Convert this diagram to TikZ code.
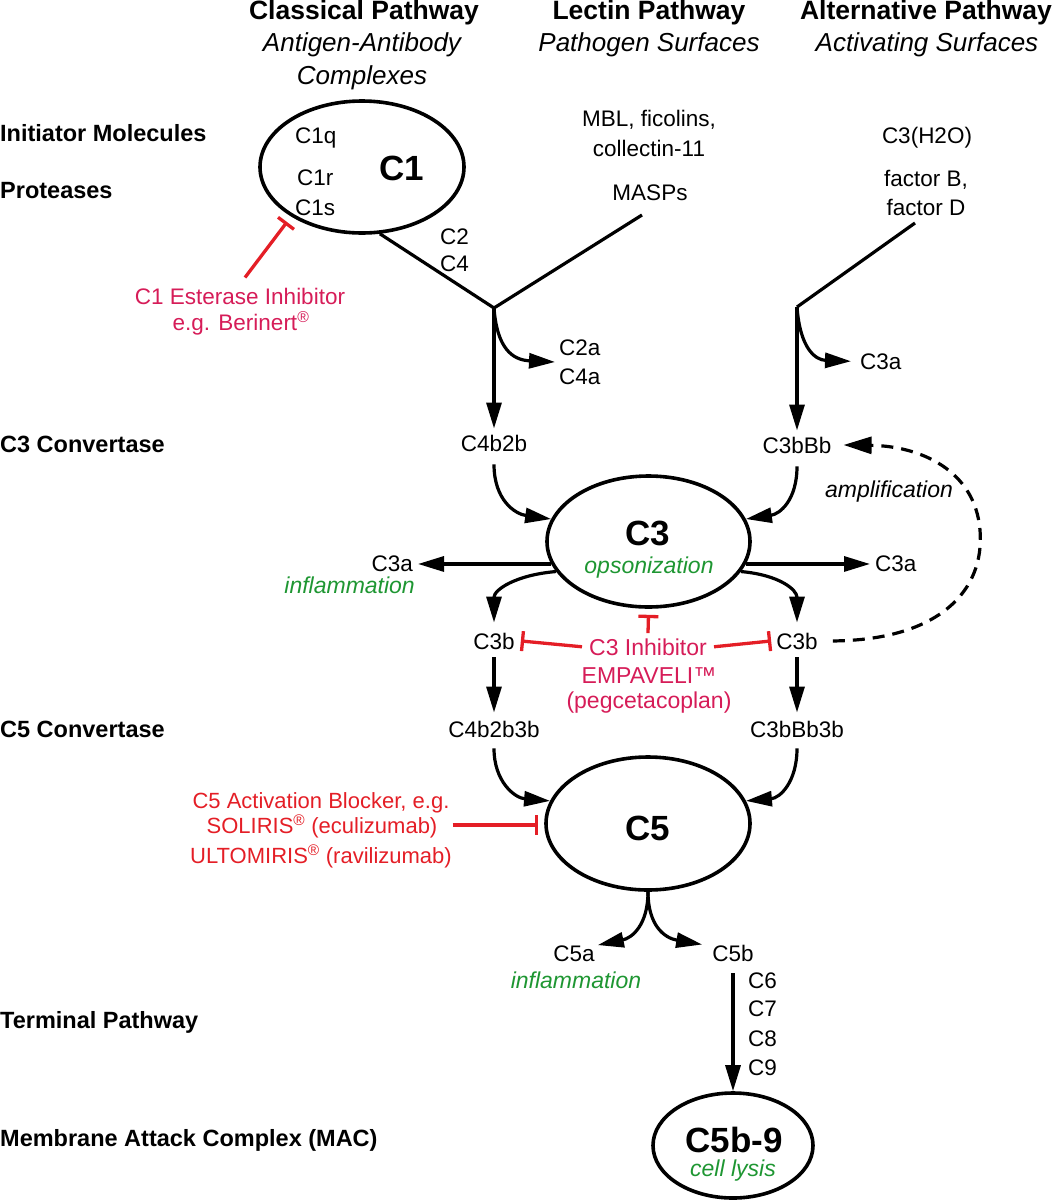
\documentclass[tikz,border=0pt]{standalone}
\usepackage{fontspec}
\setmainfont{Liberation Sans}
\usetikzlibrary{arrows.meta,shapes.geometric,calc}
\definecolor{inhred}{RGB}{228,30,38}
\definecolor{inhpink}{RGB}{214,28,88}
\definecolor{grn}{RGB}{30,150,50}
\begin{document}
\begin{tikzpicture}[x=1pt,y=-1pt,
  every node/.style={inner sep=0pt},
  hdr/.style={anchor=base, font=\fontsize{26.5}{30}\selectfont\bfseries},
  sub/.style={anchor=base, font=\fontsize{26}{30}\selectfont\itshape},
  side/.style={anchor=base west, font=\fontsize{23.5}{28}\selectfont\bfseries},
  lbl/.style={anchor=base, font=\fontsize{22.5}{27}\selectfont},
  lblw/.style={lbl, anchor=base west},
  lble/.style={lbl, anchor=base east},
  big/.style={anchor=base, font=\fontsize{35}{40}\selectfont\bfseries},
  effect/.style={anchor=base, text=grn, font=\fontsize{23}{27}\selectfont\itshape},
  drugpink/.style={anchor=base, text=inhpink, font=\fontsize{23}{27}\selectfont},
  drugred/.style={anchor=base, text=inhred, font=\fontsize{22}{27}\selectfont},
  oval/.style={draw, ellipse, line width=3.6pt, inner sep=0pt},
  arr/.style={line width=3.2pt, -{Triangle[length=26pt,width=15pt]}},
  flow/.style={line width=3.2pt},
  inh/.style={draw=inhred, line width=3.3pt, -{Bar[width=20pt]}},
  amp/.style={line width=3.2pt, dash pattern=on 12pt off 8pt, -{Triangle[length=28pt,width=17pt]}}
]
\useasboundingbox (0,0) rectangle (1058,1200);

% headers
\node[hdr] (hClass) at (364,19) {Classical Pathway};
\node[sub] (sClassA) at (362,51) {Antigen-Antibody};
\node[sub] (sClassB) at (362,84) {Complexes};
\node[hdr] (hLec) at (649,19) {Lectin Pathway};
\node[sub] (sLec) at (649,51) {Pathogen Surfaces};
\node[hdr] (hAlt) at (926,19) {Alternative Pathway};
\node[sub] (sAlt) at (927,51) {Activating Surfaces};

% side labels
\node[side] (sInit) at (0,141) {Initiator Molecules};
\node[side] (sProt) at (0,198) {Proteases};
\node[side] (sC3c) at (0,452) {C3 Convertase};
\node[side] (sC5c) at (0,737) {C5 Convertase};
\node[side] (sTerm) at (0,1028) {Terminal Pathway};
\node[side] (sMAC) at (0,1146) {Membrane Attack Complex (MAC)};

% C1
\node[oval, minimum width=204pt, minimum height=132pt] (C1) at (362,167) {};
\node[lblw] (C1q) at (295,143) {C1q};
\node[lblw] (C1r) at (297,185) {C1r};
\node[lblw] (C1s) at (295,215) {C1s};
\node[big] (C1t) at (402,180.5) {C1};
\node[lblw] (C2l) at (440,244) {C2};
\node[lblw] (C4l) at (440,271) {C4};

% lectin / alternative initiators
\node[lbl] (MBL) at (649,126) {MBL, ficolins,};
\node[lbl] (coll) at (649,156) {collectin-11};
\node[lbl] (MASP) at (650,200) {MASPs};
\node[lbl] (C3w) at (927,143) {C3(H2O)};
\node[lbl] (fB) at (926,186) {factor B,};
\node[lbl] (fD) at (926,215) {factor D};

\coordinate (J1) at (494,308);
\coordinate (J2) at (797,307);
\coordinate (lecTop) at (642,215);
\coordinate (altTop) at (915,223);

\node[lbl, anchor=west, align=left, font=\fontsize{22.5}{29}\selectfont] (C2a4a) at (559,362) {C2a\\C4a};
\node[lblw] (C3aT) at (860,369) {C3a};

% C1 inhibitor
\node[drugpink, font=\fontsize{22.5}{27}\selectfont] (C1inhA) at (240,304) {C1 Esterase Inhibitor};
\node[drugpink, font=\fontsize{22.5}{27}\selectfont] (C1inhB) at (241,330) {e.g. Berinert\textsuperscript{®}};
\coordinate (c1bar) at (287,222);

% C3 convertases
\node[lbl] (C4b2b) at (494,451) {C4b2b};
\node[lbl] (C3bBb) at (797,453) {C3bBb};

% C3
\node[oval, minimum width=203pt, minimum height=131pt] (C3) at (648.5,541.5) {};
\node[big] (C3t) at (648,545.5) {C3};
\node[effect] (ops) at (649,573) {opsonization};
\node[lble] (C3aL) at (413,571) {C3a};
\node[effect, anchor=base east] (infl1) at (415,593) {inflammation};
\node[lblw] (C3aR) at (875,571) {C3a};
\node[lbl, font=\fontsize{23}{27}\selectfont\itshape] (ampl) at (889,497) {amplification};
\node[lbl] (C3bL) at (494,649) {C3b};
\node[lbl] (C3bR) at (797,649) {C3b};

\node[drugpink] (C3inhA) at (648,655) {C3 Inhibitor};
\node[drugpink] (C3inhB) at (649,683) {EMPAVELI™};
\node[drugpink] (C3inhC) at (649,708) {(pegcetacoplan)};

% C5 convertases
\node[lbl] (C4b2b3b) at (494,737) {C4b2b3b};
\node[lbl] (C3bBb3b) at (797,737) {C3bBb3b};

% C5
\node[oval, minimum width=204pt, minimum height=133pt] (C5) at (648,823.5) {};
\node[big] (C5t) at (648,840) {C5};
\node[drugred] (C5blkA) at (321,808) {C5 Activation Blocker, e.g.};
\node[drugred] (C5blkB) at (322,833) {SOLIRIS\textsuperscript{®} (eculizumab)};
\node[drugred] (C5blkC) at (321,863) {ULTOMIRIS\textsuperscript{®} (ravilizumab)};

\node[lbl] (C5a) at (574,961) {C5a};
\node[effect] (infl2) at (576,988) {inflammation};
\node[lbl] (C5b) at (733,961) {C5b};
\node[lblw] (C6) at (748,988) {C6};
\node[lblw] (C7) at (748,1016) {C7};
\node[lblw] (C8) at (748,1046) {C8};
\node[lblw] (C9) at (748,1075) {C9};

% MAC
\node[oval, minimum width=160pt, minimum height=105pt] (C59) at (733,1145.5) {};
\node[big] (C59t) at (734,1152.5) {C5b-9};
\node[effect] (lysis) at (733,1176) {cell lysis};

% ---- connectors ----
\draw[flow] (C1.-75) -- (J1);
\draw[flow] (lecTop) -- (J1);
\draw[arr] (J1) -- ([yshift=6pt]C4b2b.north);
\draw[arr] (J1) .. controls (497,348) and (512,360) .. ([xshift=-4pt]C2a4a.west);
\draw[flow] (altTop) -- (J2);
\draw[arr] (J2) -- ([yshift=6pt]C3bBb.north);
\draw[arr] (J2) .. controls (800,348) and (815,360) .. ([xshift=-9pt]C3aT.west);

\draw[inh] ($(C1inhA.north)+(5,-10)$) -- (c1bar);

\draw[arr] ([yshift=-13pt]C4b2b.south) .. controls (494,500) and (515,514) .. (C3.167);
\draw[arr] ([yshift=-13pt]C3bBb.south) .. controls (797,500) and (780,514) .. (C3.13);

\draw[arr] (C3.193) -- (C3.193 -| C3aL.east) [shorten >=5pt];
\draw[arr] (C3.-13) -- (C3.-13 -| C3aR.west) [shorten >=5pt];
\draw[arr] (C3.198) .. controls (515,575) and (494,590) .. ([yshift=10pt]C3bL.north);
\draw[arr] (C3.-18) .. controls (780,575) and (797,590) .. ([yshift=10pt]C3bR.north);

\draw[amp] ([xshift=15pt]C3bR.east) .. controls (940,640) and (985,590) .. (980,530)
  .. controls (975,470) and (920,446) .. ([xshift=12pt]C3bBb.east);

\draw[inh] ([yshift=5pt]C3inhA.north) -- ([yshift=-6pt]C3.south);
\draw[inh] ([xshift=-7pt]C3inhA.west) -- ([xshift=6pt]C3bL.east);
\draw[inh] ([xshift=7pt]C3inhA.east) -- ([xshift=-5pt]C3bR.west);

\draw[arr] ([yshift=-8pt]C3bL.south) -- ([yshift=8pt]C4b2b3b.north);
\draw[arr] ([yshift=-8pt]C3bR.south) -- ([yshift=8pt]C3bBb3b.north);

\draw[arr] ([yshift=-11pt]C4b2b3b.south) .. controls (494,782) and (515,798) .. (C5.167);
\draw[arr] ([yshift=-11pt]C3bBb3b.south) .. controls (797,782) and (780,798) .. (C5.13);

\coordinate (c5s) at ($(C5blkB.base east)+(15,-8)$);
\draw[inh] (c5s) -- (c5s -| C5.west) [shorten >=6pt];

\draw[arr] (C5.south) .. controls (648,925) and (632,938) .. ([xshift=3pt]C5a.north east);
\draw[arr] (C5.south) .. controls (648,925) and (664,938) .. ([xshift=-10pt]C5b.north west);
\draw[arr] ([yshift=-12pt]C5b.south) -- (C59.north);
\end{tikzpicture}
\end{document}
